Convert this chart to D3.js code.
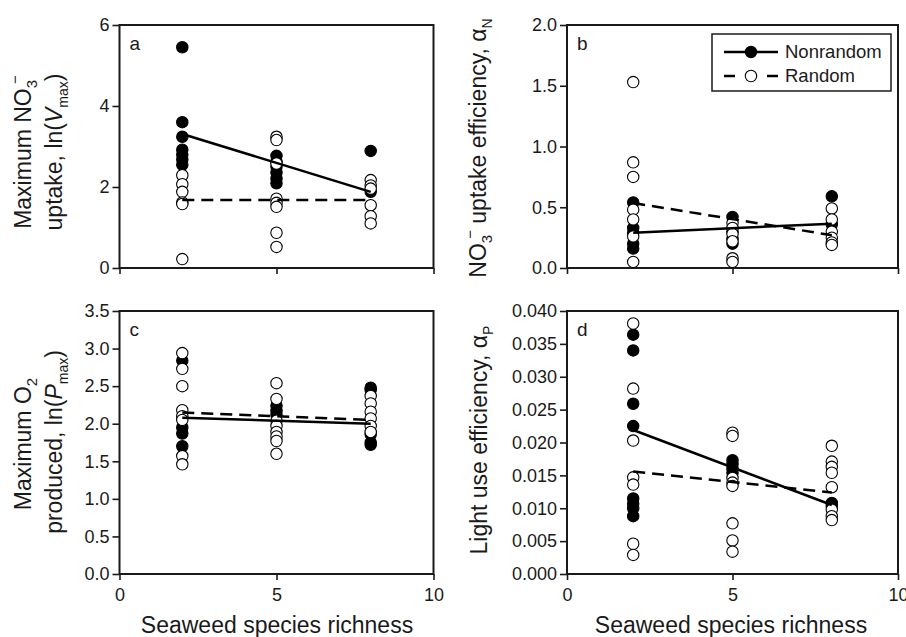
<!DOCTYPE html>
<html>
<head>
<meta charset="utf-8">
<script src="https://cdn.jsdelivr.net/npm/d3@7"></script>
<style>
  body { margin: 0; background: #fff; }
  text { font-family: "Liberation Sans", Arial, sans-serif; fill: #1a1a1a; }
</style>
</head>
<body>
<div class="chart"></div>
<script>
// DATA
var richness = [2, 5, 8];      // species richness levels (x)
var fitEnds = [2, 8];          // regression lines run between these
var xTicks = [0, 5, 10];

// a: maximum NO3- uptake, ln(Vmax)
var vmaxNonrandom = [[5.45, 3.6, 3.24, 2.92, 2.8, 2.68, 2.55], [2.77, 2.62, 2.5, 2.36, 2.21, 2.09], [2.89, 1.88]];
var vmaxRandom = [[2.29, 2.07, 1.88, 1.62, 1.58, 0.22], [3.24, 3.16, 2.58, 1.71, 1.61, 1.51, 0.87, 0.52], [2.17, 2.04, 1.96, 1.55, 1.28, 1.1]];
var vmaxFitNonrandom = [3.31, 1.88];
var vmaxFitRandom = [1.68, 1.68];
var vmaxTicks = [0, 2, 4, 6];

// b: NO3- uptake efficiency, alphaN
var alphaNNonrandom = [[0.54, 0.33, 0.29, 0.2, 0.16], [0.42, 0.3, 0.24, 0.2], [0.59, 0.36]];
var alphaNRandom = [[1.53, 0.87, 0.75, 0.48, 0.4, 0.26, 0.05], [0.37, 0.33, 0.28, 0.22, 0.08, 0.05], [0.49, 0.4, 0.3, 0.25, 0.21, 0.19]];
var alphaNFitNonrandom = [0.29, 0.365];
var alphaNFitRandom = [0.535, 0.27];
var alphaNTicks = [0, 0.5, 1.0, 1.5, 2.0];

// c: maximum O2 produced, ln(Pmax)
var pmaxNonrandom = [[2.84, 1.95, 1.87, 1.7], [2.24, 2.17, 2.12], [2.48, 2.45, 1.86, 1.75, 1.72]];
var pmaxRandom = [[2.94, 2.73, 2.5, 2.18, 2.1, 2.05, 1.57, 1.46], [2.54, 2.33, 2.04, 1.97, 1.89, 1.83, 1.77, 1.6], [2.37, 2.27, 2.16, 2.07, 1.97, 1.89]];
var pmaxFitNonrandom = [2.08, 2.0];
var pmaxFitRandom = [2.15, 2.05];
var pmaxTicks = [0, 0.5, 1.0, 1.5, 2.0, 2.5, 3.0, 3.5];

// d: light use efficiency, alphaP
var alphaPNonrandom = [[0.0364, 0.034, 0.0259, 0.0225, 0.0115, 0.0107, 0.01, 0.0088], [0.0173, 0.0167, 0.016, 0.0154], [0.0108, 0.0103]];
var alphaPRandom = [[0.0381, 0.0282, 0.0203, 0.0147, 0.0136, 0.0046, 0.0029], [0.0215, 0.021, 0.0146, 0.0139, 0.0134, 0.0077, 0.0051, 0.0034], [0.0195, 0.0171, 0.0163, 0.0154, 0.0132, 0.0098, 0.0088, 0.0082]];
var alphaPFitNonrandom = [0.0219, 0.0105];
var alphaPFitRandom = [0.0156, 0.0124];
var alphaPTicks = [0, 0.005, 0.01, 0.015, 0.02, 0.025, 0.03, 0.035, 0.04];

var cfg = {
  w: 906, h: 637,
  dotRadius: 5.7,
  fitWidth: 2.5,
  dash: "12,7",
  tickFont: "18px",
  titleFont: "23px"
};

var svg = d3.select(".chart").append("svg")
  .attr("width", cfg.w)
  .attr("height", cfg.h);

// Panel frames: [left, right, top, bottom]
var panels = [
  { id: "a", box: [119.5, 433.5, 25, 268], max: 6, ticks: vmaxTicks, fmt: d3.format("d"),
    nonrandom: vmaxNonrandom, random: vmaxRandom, fitN: vmaxFitNonrandom, fitR: vmaxFitRandom, xLabels: false },
  { id: "b", box: [567, 898, 25, 268], max: 2, ticks: alphaNTicks, fmt: d3.format(".1f"),
    nonrandom: alphaNNonrandom, random: alphaNRandom, fitN: alphaNFitNonrandom, fitR: alphaNFitRandom, xLabels: false },
  { id: "c", box: [119.5, 433.5, 311, 574], max: 3.5, ticks: pmaxTicks, fmt: d3.format(".1f"),
    nonrandom: pmaxNonrandom, random: pmaxRandom, fitN: pmaxFitNonrandom, fitR: pmaxFitRandom, xLabels: true },
  { id: "d", box: [567, 898, 311, 574], max: 0.04, ticks: alphaPTicks, fmt: d3.format(".3f"),
    nonrandom: alphaPNonrandom, random: alphaPRandom, fitN: alphaPFitNonrandom, fitR: alphaPFitRandom, xLabels: true }
];

function flatten(groups) {
  var out = [];
  groups.forEach(function (vals, i) {
    vals.forEach(function (v) { out.push({ x: richness[i], y: v }); });
  });
  return out;
}

panels.forEach(function (p) {
  var x = d3.scaleLinear().domain([0, 10]).range([p.box[0], p.box[1]]);
  var y = d3.scaleLinear().domain([0, p.max]).range([p.box[3], p.box[2]]);
  var g = svg.append("g").attr("class", "panel-" + p.id);

  // y axis ticks
  var yAxis = g.append("g")
    .attr("transform", "translate(" + p.box[0] + ",0)")
    .call(d3.axisLeft(y).tickValues(p.ticks).tickFormat(p.fmt).tickSize(7).tickPadding(3));
  // x axis ticks
  var xAxis = g.append("g")
    .attr("transform", "translate(0," + p.box[3] + ")")
    .call(d3.axisBottom(x).tickValues(xTicks).tickSize(6).tickPadding(8)
      .tickFormat(p.xLabels ? d3.format("d") : function () { return ""; }));
  [yAxis, xAxis].forEach(function (a) {
    a.select(".domain").remove();
    a.selectAll("line").attr("stroke", "#1a1a1a").attr("stroke-width", 1.6);
    a.selectAll("text").style("font-size", cfg.tickFont).attr("fill", "#1a1a1a");
  });

  // frame
  g.append("rect")
    .attr("x", p.box[0]).attr("y", p.box[2])
    .attr("width", p.box[1] - p.box[0]).attr("height", p.box[3] - p.box[2])
    .attr("fill", "none").attr("stroke", "#1a1a1a").attr("stroke-width", 2);

  // panel letter
  g.append("text")
    .attr("x", p.box[0] + 10).attr("y", p.box[2] + 25)
    .style("font-size", "19px")
    .text(p.id);

  // filled first, open drawn on top
  g.selectAll(".nonrandom")
    .data(flatten(p.nonrandom))
    .enter().append("circle")
    .attr("class", "nonrandom")
    .attr("cx", function (d) { return x(d.x); })
    .attr("cy", function (d) { return y(d.y); })
    .attr("r", cfg.dotRadius)
    .attr("fill", "#000").attr("stroke", "#000").attr("stroke-width", 1.1);

  g.selectAll(".random")
    .data(flatten(p.random))
    .enter().append("circle")
    .attr("class", "random")
    .attr("cx", function (d) { return x(d.x); })
    .attr("cy", function (d) { return y(d.y); })
    .attr("r", cfg.dotRadius)
    .attr("fill", "#fff").attr("stroke", "#000").attr("stroke-width", 1.1);

  // regression lines
  var line = d3.line()
    .x(function (d, i) { return x(fitEnds[i]); })
    .y(function (d) { return y(d); });
  g.append("path").attr("d", line(p.fitR))
    .attr("fill", "none").attr("stroke", "#000")
    .attr("stroke-width", cfg.fitWidth).attr("stroke-dasharray", cfg.dash);
  g.append("path").attr("d", line(p.fitN))
    .attr("fill", "none").attr("stroke", "#000")
    .attr("stroke-width", cfg.fitWidth);
});

/////////////////// Axis titles ///////////////////
function yTitle(cy, baseX) {
  return svg.append("text")
    .attr("transform", "translate(" + baseX + "," + cy + ") rotate(-90)")
    .attr("text-anchor", "middle")
    .style("font-size", cfg.titleFont);
}

// a
var ta1 = yTitle(152, 31);
ta1.append("tspan").text("Maximum NO");
ta1.append("tspan").attr("dy", 6).style("font-size", "15px").text("3");
ta1.append("tspan").attr("dx", -4).attr("dy", -17).style("font-size", "15px").text("\u2212");
ta1.append("tspan").attr("dy", 11).text("");
var ta2 = yTitle(152, 62);
ta2.append("tspan").text("uptake, ln(");
ta2.append("tspan").style("font-style", "italic").text("V");
ta2.append("tspan").attr("dy", 6).style("font-size", "14px").text("max");
ta2.append("tspan").attr("dy", -6).text(")");

// b
var tb = yTitle(148, 486);
tb.append("tspan").text("NO");
tb.append("tspan").attr("dy", 6).style("font-size", "15px").text("3");
tb.append("tspan").attr("dx", -4).attr("dy", -17).style("font-size", "15px").text("\u2212");
tb.append("tspan").attr("dy", 11).text(" uptake efficiency, \u03b1");
tb.append("tspan").attr("dy", 6).style("font-size", "14px").text("N");

// c
var tc1 = yTitle(444, 31);
tc1.append("tspan").text("Maximum O");
tc1.append("tspan").attr("dy", 6).style("font-size", "15px").text("2");
var tc2 = yTitle(442, 62);
tc2.append("tspan").text("produced, ln(");
tc2.append("tspan").style("font-style", "italic").text("P");
tc2.append("tspan").attr("dy", 6).style("font-size", "14px").text("max");
tc2.append("tspan").attr("dy", -6).text(")");

// d
var td = yTitle(440, 487);
td.append("tspan").text("Light use efficiency, \u03b1");
td.append("tspan").attr("dy", 6).style("font-size", "14px").text("P");

// x titles
[277, 731].forEach(function (cx) {
  svg.append("text")
    .attr("x", cx).attr("y", 633)
    .attr("text-anchor", "middle")
    .style("font-size", cfg.titleFont)
    .text("Seaweed species richness");
});

/////////////////// Legend ///////////////////
var lg = svg.append("g").attr("class", "legend");
lg.append("rect")
  .attr("x", 712).attr("y", 34).attr("width", 179).attr("height", 57)
  .attr("fill", "#fff").attr("stroke", "#1a1a1a").attr("stroke-width", 1.5);
var legendRows = [
  { label: "Nonrandom", fill: "#000", dash: null, y: 52 },
  { label: "Random", fill: "#fff", dash: "11,32", y: 76 }
];
legendRows.forEach(function (r) {
  lg.append("line")
    .attr("x1", 724).attr("x2", 778).attr("y1", r.y).attr("y2", r.y)
    .attr("stroke", "#000").attr("stroke-width", cfg.fitWidth)
    .attr("stroke-dasharray", r.dash);
  lg.append("circle")
    .attr("cx", 751).attr("cy", r.y).attr("r", cfg.dotRadius)
    .attr("fill", r.fill).attr("stroke", "#000").attr("stroke-width", 1.1);
  lg.append("text")
    .attr("x", 785).attr("y", r.y).attr("dy", "0.35em")
    .style("font-size", "18.5px")
    .text(r.label);
});
</script>
</body>
</html>
